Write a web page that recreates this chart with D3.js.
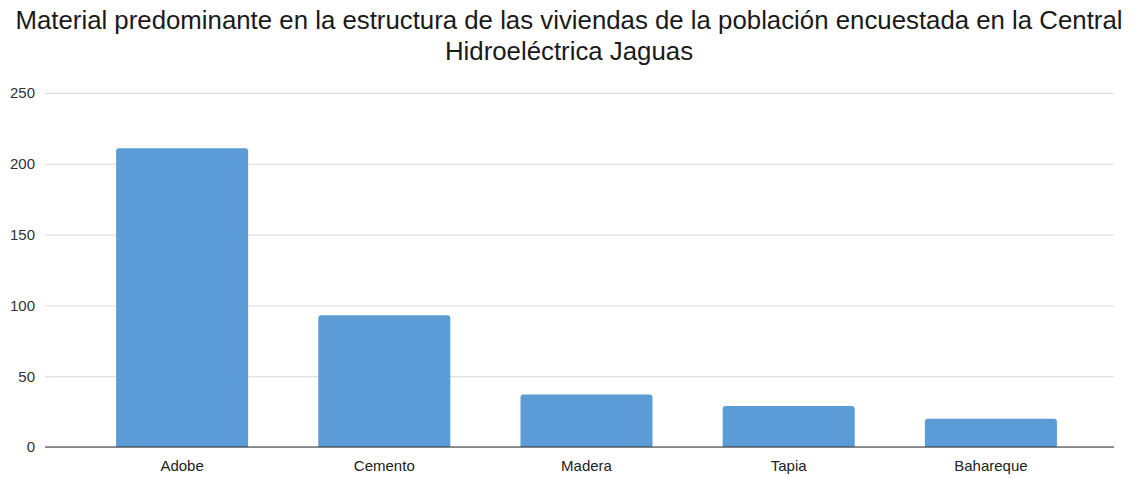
<!DOCTYPE html>
<html>
<head>
<meta charset="utf-8">
<script src="https://cdn.jsdelivr.net/npm/d3@7"></script>
<style>
  body { margin: 0; background: #fff; }
  svg { display: block; font-family: "Liberation Sans", Arial, sans-serif; }
</style>
</head>
<body>
<div id="chart"></div>
<script>
// Datos del gráfico
const categories = ['Adobe', 'Cemento', 'Madera', 'Tapia', 'Bahareque'];
const values = [211, 93, 37, 29, 20];
const yTicks = [0, 50, 100, 150, 200, 250];
const titleLines = [
    'Material predominante en la estructura de las viviendas de la población encuestada en la Central',
    'Hidroeléctrica Jaguas'
];

const width = 1138;
const height = 478;

const svg = d3.select('#chart')
    .append('svg')
    .attr('width', width)
    .attr('height', height);

// escalas
const x = d3.scaleBand()
    .domain(categories)
    .range([81, 1092])
    .paddingInner(0.347)
    .paddingOuter(0.1735);

const y = d3.scaleLinear()
    .domain([0, 250])
    .range([447, 93]);

const gridLeft = 45;
const gridRight = 1114;

// título
svg.append('g')
    .selectAll('text')
    .data(titleLines)
    .enter()
    .append('text')
    .attr('x', 569)
    .attr('y', (d, i) => 29 + i * 31)
    .attr('text-anchor', 'middle')
    .style('font-size', '25.8px')
    .style('fill', '#1a1a1a')
    .text(d => d);

// líneas de cuadrícula
const yAxis = svg.append('g')
    .attr('transform', `translate(${gridLeft},0)`)
    .call(d3.axisLeft(y).tickValues(yTicks).tickSize(-(gridRight - gridLeft)).tickPadding(10));
yAxis.select('.domain').remove();
yAxis.selectAll('line').attr('stroke', '#d9d9d9');
yAxis.selectAll('text')
    .style('font-size', '15px')
    .style('font-family', '"Liberation Sans", Arial, sans-serif')
    .style('fill', '#333');

// barras
const barPath = (d) => {
    const x0 = x(d.cat), w = x.bandwidth();
    const y0 = y(d.val), y1 = y(0), r = 3;
    return `M${x0},${y1} L${x0},${y0 + r} Q${x0},${y0} ${x0 + r},${y0}
            L${x0 + w - r},${y0} Q${x0 + w},${y0} ${x0 + w},${y0 + r} L${x0 + w},${y1} Z`;
};

svg.append('g')
    .selectAll('path')
    .data(categories.map((c, i) => ({ cat: c, val: values[i] })))
    .enter()
    .append('path')
    .attr('d', barPath)
    .attr('fill', '#5b9bd6');

// línea base
svg.append('line')
    .attr('x1', gridLeft)
    .attr('x2', gridRight)
    .attr('y1', y(0))
    .attr('y2', y(0))
    .attr('stroke', '#333')
    .attr('stroke-width', 1.2);

// etiquetas del eje x
const xAxis = svg.append('g')
    .attr('transform', `translate(0,${y(0)})`)
    .call(d3.axisBottom(x).tickSize(0).tickPadding(13));
xAxis.select('.domain').remove();
xAxis.selectAll('text')
    .style('font-size', '15px')
    .style('font-family', '"Liberation Sans", Arial, sans-serif')
    .style('fill', '#222');
</script>
</body>
</html>
